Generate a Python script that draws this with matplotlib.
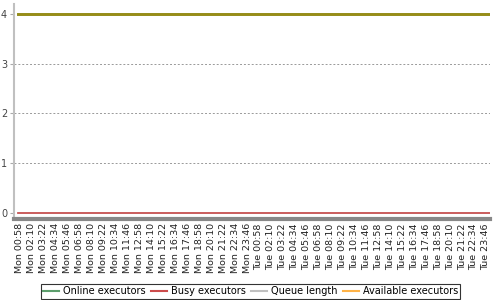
import matplotlib
matplotlib.use("Agg")
import matplotlib.pyplot as plt
from matplotlib.lines import Line2D

# sample times in minutes from Monday 00:00
times = [46, 490, 922, 1354, 1786, 2218, 2650, 2890]
online = [4, 4, 4, 4, 4, 4, 4, 4]
busy = [0, 0, 0, 0, 0, 0, 0, 0]
queue = [0, 0, 0, 0, 0, 0, 0, 0]
available = [4, 4, 4, 4, 4, 4, 4, 4]

tick_minutes = [58 + 72 * k for k in range(40)]
tick_labels = ["Mon 00:58", "Mon 02:10", "Mon 03:22", "Mon 04:34", "Mon 05:46",
               "Mon 06:58", "Mon 08:10", "Mon 09:22", "Mon 10:34", "Mon 11:46",
               "Mon 12:58", "Mon 14:10", "Mon 15:22", "Mon 16:34", "Mon 17:46",
               "Mon 18:58", "Mon 20:10", "Mon 21:22", "Mon 22:34", "Mon 23:46",
               "Tue 00:58", "Tue 02:10", "Tue 03:22", "Tue 04:34", "Tue 05:46",
               "Tue 06:58", "Tue 08:10", "Tue 09:22", "Tue 10:34", "Tue 11:46",
               "Tue 12:58", "Tue 14:10", "Tue 15:22", "Tue 16:34", "Tue 17:46",
               "Tue 18:58", "Tue 20:10", "Tue 21:22", "Tue 22:34", "Tue 23:46"]
y_ticks = [0, 1, 2, 3, 4]

c_online = "#5c9e6c"
c_busy = "#cc4c4c"
c_queue = "#c0c0c0"
c_avail = "#ffb347"

fig = plt.figure(figsize=(5, 3), dpi=100)
ax = fig.add_axes([0.028, 0.27, 0.952, 0.717])

ax.plot(times, queue, color=c_queue, lw=1.2, zorder=3)
ax.plot(times, busy, color=c_busy, lw=1.2, zorder=4)
ax.plot(times, online, color=c_online, lw=2, zorder=3)
ax.plot(times, available, color="#9a8c16", lw=2, zorder=4)

ax.set_xlim(22, 2890)
ax.set_ylim(-0.12, 4.2)
ax.set_yticks(y_ticks)
ax.set_yticklabels([str(v) for v in y_ticks], fontsize=7, color="#444444")
ax.set_xticks(tick_minutes)
ax.set_xticklabels(tick_labels, rotation=90, fontsize=6.8, color="#222222")
ax.tick_params(axis="x", length=0, pad=3)
ax.tick_params(axis="y", length=3, color="#aaaaaa", pad=2)

for v in y_ticks[1:4]:
    ax.axhline(v, color="#999999", lw=0.7, ls=(0, (2, 2)), zorder=1)

for s in ["top", "right"]:
    ax.spines[s].set_visible(False)
ax.spines["left"].set_color("#c0c0c0")
ax.spines["left"].set_linewidth(1.5)
ax.spines["bottom"].set_color("#888888")
ax.spines["bottom"].set_linewidth(3)

handles = [Line2D([], [], color=c_online, lw=1.5),
           Line2D([], [], color=c_busy, lw=1.5),
           Line2D([], [], color=c_queue, lw=1.5),
           Line2D([], [], color=c_avail, lw=1.5)]
labels = ["Online executors", "Busy executors", "Queue length", "Available executors"]
leg = fig.legend(handles, labels, loc="lower center", bbox_to_anchor=(0.501, 0.005),
                 ncol=4, fontsize=7, frameon=True, fancybox=False,
                 handlelength=1.6, handletextpad=0.4, columnspacing=0.6,
                 borderpad=0.25, borderaxespad=0)
leg.get_frame().set_edgecolor("black")
leg.get_frame().set_linewidth(0.8)

fig.savefig("out.png", dpi=100)
